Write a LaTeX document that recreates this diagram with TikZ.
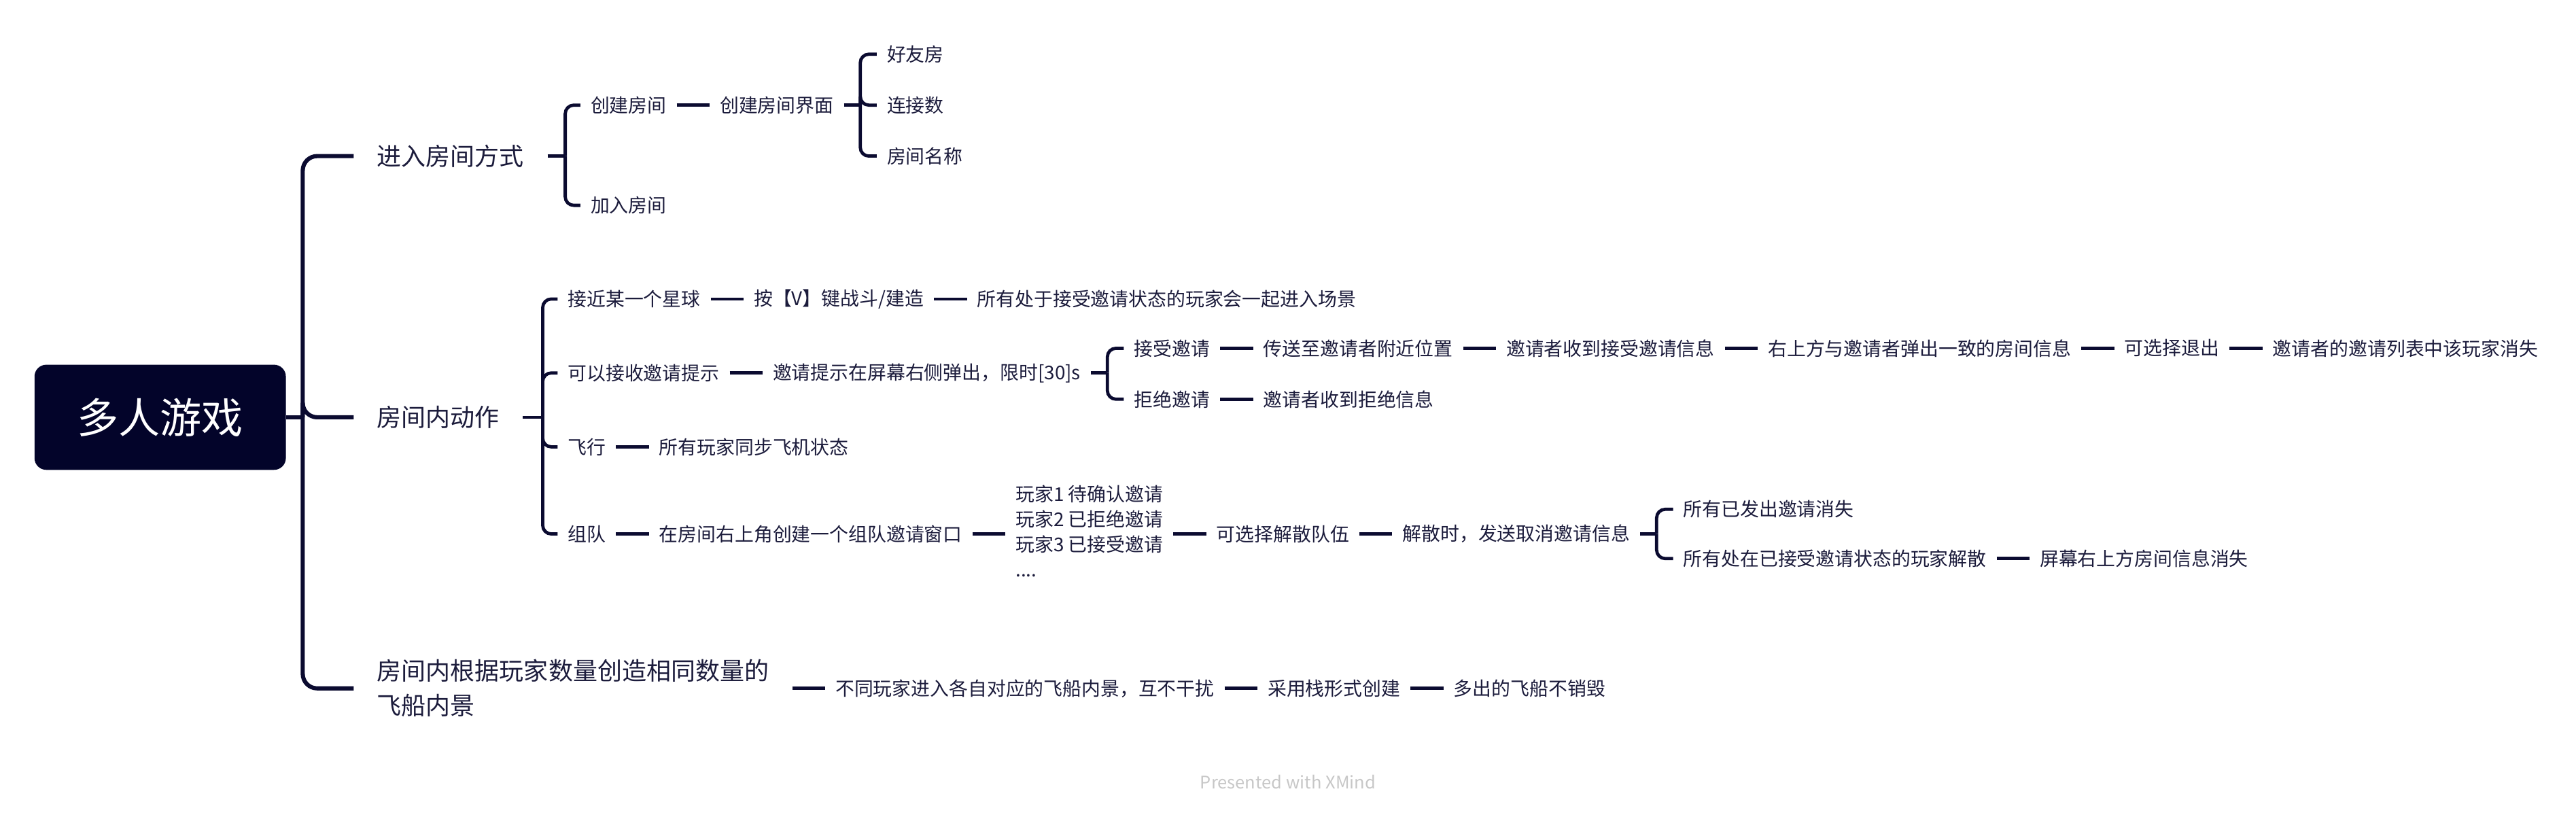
\documentclass[tikz,border=0pt]{standalone}
\usepackage{fontspec}
\setmainfont{Noto Sans CJK SC}
\usepackage{xcolor}
\usetikzlibrary{positioning}
\definecolor{navy}{HTML}{03042A}
\definecolor{inkcol}{HTML}{1C1C3C}
\definecolor{linecol}{HTML}{0B0B30}
\tikzset{
  root/.style={fill=navy, text=white, rounded corners=0.18cm, minimum width=3.825cm,
    minimum height=1.6cm, font=\fontsize{18}{20}\selectfont},
  topic/.style={inner xsep=0.35cm, inner ysep=0.05cm, text=inkcol, font=\fontsize{10.6}{15}\selectfont},
  item/.style={inner xsep=0.15cm, inner ysep=0.03cm, text=inkcol, font=\fontsize{8.2}{10.9}\selectfont},
  link/.style={draw=linecol, line width=1.4pt, rounded corners=0.13cm},
  trunk/.style={link, line width=1.8pt, rounded corners=0.22cm}
}

\begin{document}
\begin{tikzpicture}
  \useasboundingbox (0,0) rectangle (39.2,-12.425);
  \node[root] (root) at (2.4375,-6.35) {多人游戏};

  % main topics
  \node[topic, right=1.025cm of root, yshift=3.975cm] (enter) {进入房间方式};
  \node[topic, right=1.025cm of root] (act) {房间内动作};
  \node[topic, right=1.025cm of root, yshift=-4.125cm, align=left] (ship) {房间内根据玩家数量创造相同数量的\\飞船内景};

  % enter room
  \node[item, right=0.5cm of enter, yshift=0.775cm] (create) {创建房间};
  \node[item, right=0.5cm of enter, yshift=-0.75cm] (join) {加入房间};
  \node[item, right=0.5cm of create] (createui) {创建房间界面};
  \node[item, right=0.5cm of createui, yshift=0.775cm] (friend) {好友房};
  \node[item, right=0.5cm of createui] (conn) {连接数};
  \node[item, right=0.5cm of createui, yshift=-0.775cm] (roomname) {房间名称};

  % in-room actions
  \node[item, right=0.525cm of act, yshift=1.8cm] (near) {接近某一个星球};
  \node[item, right=0.5cm of near] (pressv) {按【V】键战斗/建造};
  \node[item, right=0.5cm of pressv] (allenter) {所有处于接受邀请状态的玩家会一起进入场景};

  \node[item, right=0.525cm of act, yshift=0.675cm] (invite) {可以接收邀请提示};
  \node[item, right=0.5cm of invite] (popup) {邀请提示在屏幕右侧弹出，限时[30]s};
  \node[item, right=0.5cm of popup, yshift=0.375cm] (accept) {接受邀请};
  \node[item, right=0.5cm of accept] (teleport) {传送至邀请者附近位置};
  \node[item, right=0.5cm of teleport] (gotaccept) {邀请者收到接受邀请信息};
  \node[item, right=0.5cm of gotaccept] (popinfo) {右上方与邀请者弹出一致的房间信息};
  \node[item, right=0.5cm of popinfo] (canquit) {可选择退出};
  \node[item, right=0.5cm of canquit] (listgone) {邀请者的邀请列表中该玩家消失};
  \node[item, right=0.5cm of popup, yshift=-0.4cm] (refuse) {拒绝邀请};
  \node[item, right=0.5cm of refuse] (gotrefuse) {邀请者收到拒绝信息};

  \node[item, right=0.525cm of act, yshift=-0.45cm] (fly) {飞行};
  \node[item, right=0.5cm of fly] (syncfly) {所有玩家同步飞机状态};

  \node[item, right=0.525cm of act, yshift=-1.775cm] (team) {组队};
  \node[item, right=0.5cm of team] (teamwin) {在房间右上角创建一个组队邀请窗口};
  \node[item, right=0.5cm of teamwin, align=left] (teamlist)
    {\strut 玩家1 待确认邀请\\\strut 玩家2 已拒绝邀请\\\strut 玩家3 已接受邀请\\\strut ....};
  \node[item, right=0.5cm of teamlist] (disband) {可选择解散队伍};
  \node[item, right=0.5cm of disband] (disbandmsg) {解散时，发送取消邀请信息};
  \node[item, right=0.5cm of disbandmsg, yshift=0.375cm] (allgone) {所有已发出邀请消失};
  \node[item, right=0.5cm of disbandmsg, yshift=-0.375cm] (alldisband) {所有处在已接受邀请状态的玩家解散};
  \node[item, right=0.5cm of alldisband] (infogone) {屏幕右上方房间信息消失};

  % ship interiors
  \node[item, right=0.5cm of ship] (diffship) {不同玩家进入各自对应的飞船内景，互不干扰};
  \node[item, right=0.5cm of diffship] (stack) {采用栈形式创建};
  \node[item, right=0.5cm of stack] (nodestroy) {多出的飞船不销毁};

  \node[text=black!22, font=\fontsize{7.5}{9}\selectfont] (credit) at (19.6,-11.9) {Presented with XMind};

  % connectors
  \draw[trunk] (root.east) -- ++(0.25,0) coordinate (root-j);
  \foreach \c in {enter,act,ship}
    \draw[trunk] (root-j) |- (\c.west);

  \foreach \p/\s/\kids in {enter/0.27/{create,join}, createui/0.25/{friend,conn,roomname},
      act/0.3/{near,invite,fly,team}, popup/0.25/{accept,refuse}, disbandmsg/0.25/{allgone,alldisband}} {
    \draw[link] (\p.east) -- ++(\s,0) coordinate (\p-j);
    \foreach \c in \kids
      \draw[link] (\p-j) |- (\c.west);
  }

  \foreach \a/\b in {create/createui, near/pressv, pressv/allenter, invite/popup,
      accept/teleport, teleport/gotaccept, gotaccept/popinfo, popinfo/canquit, canquit/listgone,
      refuse/gotrefuse, fly/syncfly, team/teamwin, teamwin/teamlist, teamlist/disband,
      disband/disbandmsg, alldisband/infogone, ship/diffship, diffship/stack, stack/nodestroy}
    \draw[link] (\a.east) -- (\b.west);
\end{tikzpicture}
\end{document}
